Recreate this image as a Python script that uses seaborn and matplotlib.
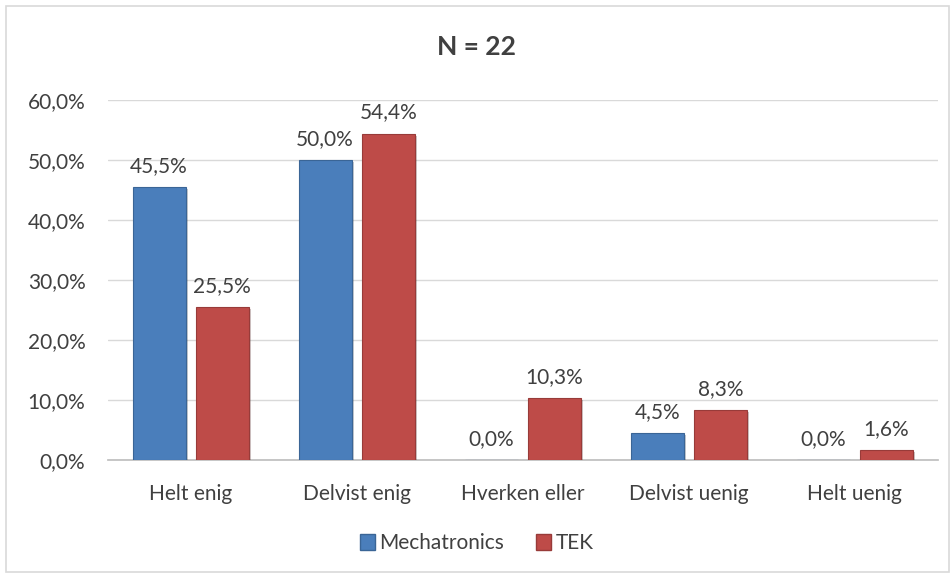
import matplotlib
matplotlib.use("Agg")
import matplotlib.pyplot as plt
import matplotlib.patheffects as pe
from matplotlib.patches import Patch, Rectangle
from matplotlib.ticker import FuncFormatter
import pandas as pd
import seaborn as sns

categories = ["Helt enig", "Delvist enig", "Hverken eller", "Delvist uenig", "Helt uenig"]
mechatronics = [45.5, 50.0, 0.0, 4.5, 0.0]
tek = [25.5, 54.4, 10.3, 8.3, 1.6]
series_names = ["Mechatronics", "TEK"]
colors = ["#4A7EBB", "#BE4B48"]
edge_colors = ["#3A6596", "#983B39"]

df = pd.DataFrame({
    "Kategori": categories * 2,
    "Andel": mechatronics + tek,
    "Gruppe": [series_names[0]] * len(categories) + [series_names[1]] * len(categories),
})

sns.set_theme(style="white")
plt.rcParams["font.family"] = ["Lato", "DejaVu Sans"]

fig = plt.figure(figsize=(9.53, 5.75), dpi=100)
ax = fig.add_axes([0.113, 0.2, 0.871, 0.626])

sns.barplot(data=df, x="Kategori", y="Andel", hue="Gruppe", order=categories,
            hue_order=series_names, palette=colors, saturation=1, width=0.76, gap=0.16,
            legend=False, ax=ax, zorder=3)

for container, ec, vals in zip(ax.containers, edge_colors, [mechatronics, tek]):
    for bar in container:
        bar.set_edgecolor(ec)
        bar.set_linewidth(0.8)
        bar.set_path_effects([pe.SimplePatchShadow(offset=(1.5, -1.5), alpha=0.25),
                              pe.Normal()])
    ax.bar_label(container, labels=[f"{v:.1f}%".replace(".", ",") for v in vals],
                 padding=8, fontsize=15, color="#404040")

ax.set_ylim(0, 60)
ax.set_xlim(-0.5, 4.5)
ax.set_yticks(range(0, 61, 10))
ax.yaxis.set_major_formatter(FuncFormatter(lambda v, _: f"{v:.1f}%".replace(".", ",")))
ax.yaxis.grid(True, color="#D9D9D9", linewidth=1, zorder=0)
ax.set_axisbelow(True)
for side in ["left", "right", "top"]:
    ax.spines[side].set_visible(False)
ax.spines["bottom"].set_color("#BFBFBF")
ax.tick_params(axis="both", length=0, labelsize=15, labelcolor="#404040")
ax.tick_params(axis="x", pad=17)
ax.tick_params(axis="y", pad=16)
ax.set_xlabel("")
ax.set_ylabel("")

fig.text(0.5, 0.918, "N = 22", ha="center", va="center", fontsize=19,
         fontweight="bold", color="#404040")

handles = [Patch(facecolor=c, edgecolor=e) for c, e in zip(colors, edge_colors)]
fig.legend(handles, series_names, loc="center", bbox_to_anchor=(0.5, 0.055), ncol=2,
           frameon=False, fontsize=15, handlelength=0.75, handleheight=0.75,
           handletextpad=0.2, columnspacing=1.5, labelcolor="#404040")

fig.patches.append(Rectangle((0.006, 0.005), 0.99, 0.985, transform=fig.transFigure,
                             fill=False, edgecolor="#D9D9D9", linewidth=1.2))

fig.savefig("out.png", dpi=100)
plt.close(fig)
